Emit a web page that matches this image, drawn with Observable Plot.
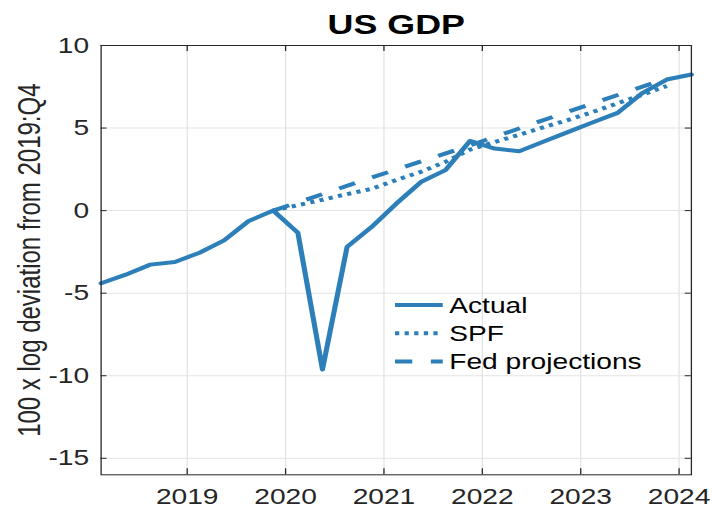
<!DOCTYPE html>
<html><head><meta charset="utf-8">
<script src="https://cdn.jsdelivr.net/npm/d3@7"></script>
<script src="https://cdn.jsdelivr.net/npm/@observablehq/plot@0.6"></script>
<style>
html,body{margin:0;padding:0;background:#fff;}
#chart svg{display:block;}
</style></head><body><div id="chart"></div>
<script>
const title = "US GDP";
const yLabel = "100 x log deviation from 2019:Q4";
const seriesNames = ["Actual", "SPF", "Fed projections"];
const actualQuarters = ["2018:Q1","2018:Q2","2018:Q3","2018:Q4","2019:Q1","2019:Q2","2019:Q3","2019:Q4",
  "2020:Q1","2020:Q2","2020:Q3","2020:Q4","2021:Q1","2021:Q2","2021:Q3","2021:Q4",
  "2022:Q1","2022:Q2","2022:Q3","2022:Q4","2023:Q1","2023:Q2","2023:Q3","2023:Q4","2024:Q1"];
const actualValues = [-4.4,-3.88,-3.27,-3.11,-2.55,-1.8,-0.63,0,
  -1.34,-9.62,-2.2,-0.99,0.42,1.73,2.45,4.22,
  3.76,3.6,4.19,4.77,5.35,5.92,7.12,7.94,8.24];
const spfQuarters = ["2019:Q4","2020:Q1","2020:Q2","2020:Q3","2020:Q4","2021:Q1","2021:Q2","2021:Q3","2021:Q4",
  "2022:Q1","2022:Q2","2022:Q3","2022:Q4","2023:Q1","2023:Q2","2023:Q3","2023:Q4"];
const spfValues = [0,0.33,0.66,1.0,1.32,1.85,2.35,2.95,3.7,4.15,4.6,5.05,5.5,5.98,6.5,7.02,7.55];
const fedQuarters = ["2019:Q4","2020:Q4","2021:Q4","2022:Q4","2023:Q4"];
const fedValues = [0,2.0,3.95,6.0,8.0];
const xDomainQuarters = ["2018:Q1","2024:Q1"];
const xTicks = [2019,2020,2021,2022,2023,2024];
const yTicks = [-15,-10,-5,0,5,10];
const yDomain = [-16,10];

const S = 1.28, W = 712 / S, H = 510;
const mL = 78.5, mR = 16.6, mT = 45, mB = 35.7;
const plotW = W - mL - mR, plotH = H - mT - mB;
const C = "#2c7fb8", gridC = "#e3e3e3", axisC = "#262626";
const dashes = [null, "3.3,4.2", "13.5,14.5"];
const toX = q => { const [y, qq] = q.split(":Q"); return +y + (+qq - 1) / 4 + 0.125; };
const mk = (qs, vs) => qs.map((q, i) => ({x: toX(q), y: vs[i]}));
const actual = mk(actualQuarters, actualValues);
const spf = mk(spfQuarters, spfValues);
const fed = mk(fedQuarters, fedValues);
const fmt = d => String(d);

const chart = Plot.plot({
  width: W, height: H, marginTop: mT, marginBottom: mB, marginLeft: mL, marginRight: mR,
  style: {fontFamily: "'Liberation Sans', Arial, sans-serif", color: axisC, background: "white"},
  x: {domain: xDomainQuarters.map(toX)},
  y: {domain: yDomain},
  marks: [
    Plot.ruleX(xTicks, {x: d => d, stroke: gridC, strokeWidth: 1}),
    Plot.ruleY(yTicks, {y: d => d, stroke: gridC, strokeWidth: 1}),
    Plot.line(actual, {x: "x", y: "y", stroke: C, strokeWidth: 4, strokeLinejoin: "round"}),
    Plot.line(spf, {x: "x", y: "y", stroke: C, strokeWidth: 4, strokeDasharray: dashes[1], strokeLinecap: "butt"}),
    Plot.line(fed, {x: "x", y: "y", stroke: C, strokeWidth: 4, strokeDasharray: dashes[2], strokeLinecap: "butt"}),
    Plot.tickX(xTicks, {x: d => d, insetTop: plotH - 6, stroke: axisC}),
    Plot.tickX(xTicks, {x: d => d, insetBottom: plotH - 6, stroke: axisC}),
    Plot.tickY(yTicks, {y: d => d, insetRight: plotW - 4.7, stroke: axisC}),
    Plot.tickY(yTicks, {y: d => d, insetLeft: plotW - 4.7, stroke: axisC}),
    Plot.frame({stroke: axisC, strokeWidth: 1}),
    Plot.axisX(xTicks, {tickSize: 0, tickPadding: 14, fontSize: 22, tickFormat: fmt, label: null}),
    Plot.axisY(yTicks, {tickSize: 0, tickPadding: 9.4, fontSize: 22, tickFormat: fmt, label: null}),
    Plot.text([title], {text: d => d, frameAnchor: "top", lineAnchor: "bottom", dy: -11.7, fontSize: 28, fontWeight: "bold", fill: "black"}),
    Plot.text([yLabel], {text: d => d, frameAnchor: "left", textAnchor: "middle", rotate: -90, lineAnchor: "bottom", dx: 31 - mL, fontSize: 24, fill: axisC})
  ]
});

// legend (layout only)
const lg = d3.select(chart).append("g").attr("font-size", 22).attr("fill", "black").attr("text-anchor", "start");
seriesNames.forEach((name, i) => {
  const y = 305 + i * 28.3;
  const ln = lg.append("line").attr("x1", 308.6).attr("x2", 345.9).attr("y1", y).attr("y2", y)
    .attr("stroke", C).attr("stroke-width", 4);
  if (dashes[i]) ln.attr("stroke-dasharray", dashes[i]);
  lg.append("text").attr("x", 351).attr("y", y).attr("dy", "0.35em").attr("text-anchor", "start").text(name);
});

chart.setAttribute("width", 712);
chart.setAttribute("height", 510);
chart.setAttribute("preserveAspectRatio", "none");
chart.style.width = "712px";
chart.style.height = "510px";
chart.style.maxWidth = "none";
document.getElementById("chart").appendChild(chart);
</script></body></html>
